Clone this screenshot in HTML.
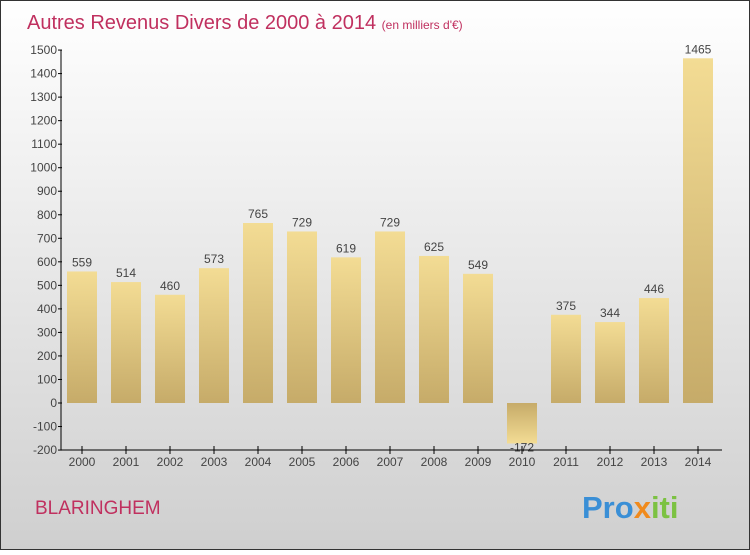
<!DOCTYPE html>
<html><head><meta charset="utf-8"><style>
body{margin:0;width:750px;height:550px;overflow:hidden;font-family:"Liberation Sans",sans-serif}
</style></head><body>
<svg id="c" width="750" height="550">
<defs>
<linearGradient id="bg" x1="0" y1="0" x2="0" y2="1"><stop offset="0" stop-color="#ffffff"/><stop offset="1" stop-color="#cfcfcf"/></linearGradient>
<linearGradient id="bp" x1="0" y1="0" x2="0" y2="1"><stop offset="0" stop-color="#f3dc94"/><stop offset="1" stop-color="#c6ab69"/></linearGradient>
<linearGradient id="bn" x1="0" y1="0" x2="0" y2="1"><stop offset="0" stop-color="#c6ab69"/><stop offset="1" stop-color="#f3dc94"/></linearGradient>
</defs>
<rect x="0.5" y="0.5" width="749" height="549" fill="url(#bg)" stroke="#333"/>
<text x="27" y="29" font-size="20" fill="#c0305f">Autres Revenus Divers de 2000 à 2014 <tspan font-size="12">(en milliers d'€)</tspan></text>
<text x="35" y="514" font-size="19" fill="#c0305f">BLARINGHEM</text>
<text x="582" y="518" font-size="31" font-weight="bold"><tspan fill="#3a8fd6">Pro</tspan><tspan fill="#f08a1c">x</tspan><tspan fill="#7cc242">iti</tspan></text>
<g id="plot"></g>
</svg>
<script>
const years=["2000","2001","2002","2003","2004","2005","2006","2007","2008","2009","2010","2011","2012","2013","2014"];
const values=[559,514,460,573,765,729,619,729,625,549,-172,375,344,446,1465];
const ticks=[-200,-100,0,100,200,300,400,500,600,700,800,900,1000,1100,1200,1300,1400,1500];
const NS="http://www.w3.org/2000/svg";
const g=document.getElementById('plot');
const y=v=>403-v*(400/1700);
const x=i=>82+i*44;
function el(t,a){const e=document.createElementNS(NS,t);for(const k in a)e.setAttribute(k,a[k]);g.appendChild(e);return e;}
ticks.forEach(t=>{
 const l=el('line',{x1:58,x2:62,y1:y(t),y2:y(t),stroke:'#000'});
 
 
 const tx=el('text',{x:57,y:y(t)+4,'text-anchor':'end','font-size':12,fill:'#444'});
 tx.textContent=t;
 
 
});
const ya=el('line',{x1:61,x2:61,y1:y(1500),y2:y(-200),stroke:'#000'});


values.forEach((v,i)=>{
 const top=v>=0?y(v):y(0),h=Math.abs(y(v)-y(0));
 const r=el('rect',{x:x(i)-15,y:top,width:30,height:h,fill:v>=0?'url(#bp)':'url(#bn)'});
 
 
 const ly=v>=0?y(v)-5:y(v)+8;
 const t=el('text',{x:x(i),y:ly,'text-anchor':'middle','font-size':12,fill:'#444'});
 t.textContent=v;
 
 
 const tk=el('line',{x1:x(i),x2:x(i),y1:y(-200)-4,y2:y(-200)+4,stroke:'#000'});
 
 
 const yl=el('text',{x:x(i),y:466,'text-anchor':'middle','font-size':12,fill:'#444'});
 yl.textContent=years[i];
 
 
});
const xa=el('line',{x1:61,x2:722,y1:y(-200),y2:y(-200),stroke:'#000'});


</script>
</body></html>
